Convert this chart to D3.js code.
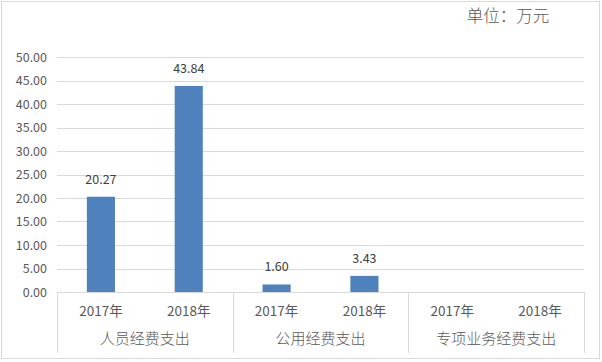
<!DOCTYPE html>
<html><head><meta charset="utf-8">
<script src="https://cdn.jsdelivr.net/npm/d3@7"></script>
<style>body{margin:0;background:#fff;}svg{display:block;}</style>
</head><body>
<svg id="c" width="602" height="362"></svg>
<script>
const groups = ["人员经费支出", "公用经费支出", "专项业务经费支出"];
const years = ["2017年", "2018年"];
const values = [[20.27, 43.84], [1.60, 3.43], [null, null]];
const yTicks = [0, 5, 10, 15, 20, 25, 30, 35, 40, 45, 50];
const unitLabel = "单位：万元";

(function () {
const svg = d3.select("#c");
const font = "'Microsoft YaHei','Noto Sans CJK SC','DejaVu Sans',sans-serif";
const pL = 57, pR = 584, pT = 57, pB = 292;

svg.append("rect").attr("x", 1.5).attr("y", 1.5).attr("width", 598).attr("height", 357)
  .attr("fill", "#fff").attr("stroke", "#d9d9d9");

const y = d3.scaleLinear().domain([0, 50]).range([pB, pT]);
const slots = [];
groups.forEach((g, gi) => years.forEach((yr, yi) => slots.push({g: gi, yr, v: values[gi][yi], key: gi + "-" + yi})));
const x = d3.scaleBand().domain(slots.map(d => d.key)).range([pL, pR]).paddingInner(0.68).paddingOuter(0.34);
const gx = d3.scaleBand().domain(groups).range([pL, pR]);

svg.append("g").selectAll("line").data(yTicks.filter(t => t > 0)).join("line")
  .attr("x1", pL).attr("x2", pR)
  .attr("y1", d => Math.round(y(d)) + 0.5).attr("y2", d => Math.round(y(d)) + 0.5)
  .attr("stroke", "#d9d9d9");

const yAxis = d3.axisLeft(y).tickValues(yTicks).tickFormat(d3.format(".2f")).tickSize(0).tickPadding(10);
const ya = svg.append("g").attr("transform", `translate(${pL},0)`).call(yAxis);
ya.select(".domain").remove();
ya.selectAll("text").attr("font-family", font).attr("font-size", 12.5).attr("fill", "#595959");

const bars = slots.filter(d => d.v != null);
svg.append("g").selectAll("rect").data(bars).join("rect")
  .attr("x", d => x(d.key)).attr("width", x.bandwidth())
  .attr("y", d => y(d.v)).attr("height", d => y(0) - y(d.v))
  .attr("fill", "#4f81bd");

svg.append("g").selectAll("text").data(bars).join("text")
  .attr("x", d => x(d.key) + x.bandwidth() / 2).attr("y", d => y(d.v) - 13)
  .attr("text-anchor", "middle").attr("font-family", font).attr("font-size", 12.5).attr("fill", "#404040")
  .text(d => d3.format(".2f")(d.v));

svg.append("line").attr("x1", pL).attr("x2", pR).attr("y1", pB + 0.5).attr("y2", pB + 0.5).attr("stroke", "#d9d9d9");
const seps = [pL, ...groups.map(g => gx(g) + gx.bandwidth())];
svg.append("g").selectAll("line").data(seps).join("line")
  .attr("x1", d => Math.round(d) + 0.5).attr("x2", d => Math.round(d) + 0.5)
  .attr("y1", pB).attr("y2", 353).attr("stroke", "#d9d9d9");

svg.append("g").selectAll("text").data(slots).join("text")
  .attr("x", d => x(d.key) + x.bandwidth() / 2).attr("y", 316)
  .attr("text-anchor", "middle").attr("font-family", font).attr("font-size", 13.5).attr("fill", "#595959")
  .text(d => d.yr);
svg.append("g").selectAll("text").data(groups).join("text")
  .attr("x", d => gx(d) + gx.bandwidth() / 2).attr("y", 344)
  .attr("text-anchor", "middle").attr("font-family", font).attr("font-size", 15).attr("font-weight", 300).attr("fill", "#595959")
  .text(d => d);

svg.append("text").attr("x", 508).attr("y", 22).attr("text-anchor", "middle")
  .attr("font-family", font).attr("font-size", 16.5).attr("font-weight", 300).attr("fill", "#595959").text(unitLabel);
})();
</script>
</body></html>
